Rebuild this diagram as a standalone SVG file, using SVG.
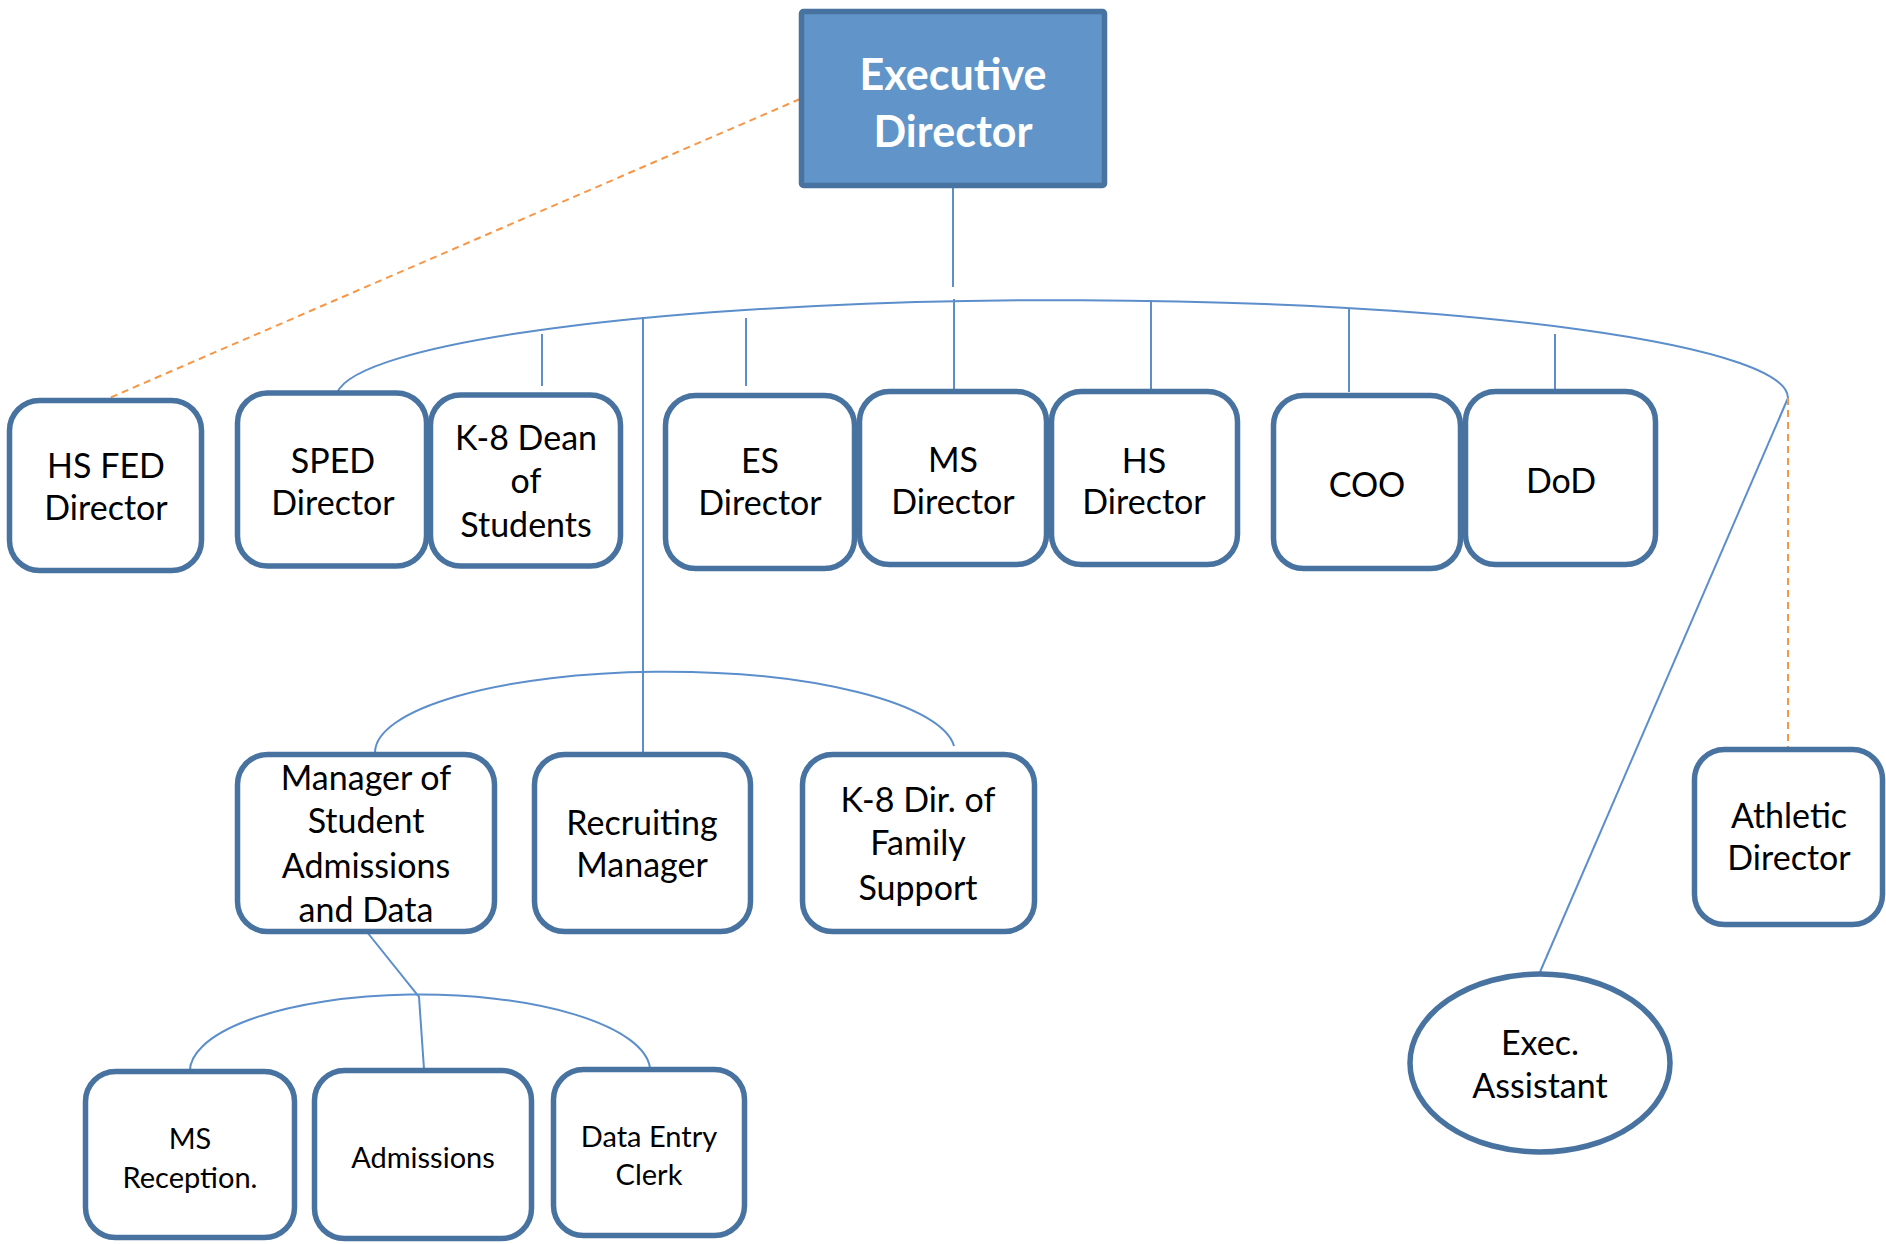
<svg xmlns="http://www.w3.org/2000/svg" width="1886" height="1244" viewBox="0 0 1886 1244">
<style>
.box{fill:#ffffff;stroke:#4872a0;stroke-width:5.5}
.exec{fill:#6195c9;stroke:#4872a0;stroke-width:5.5}
.t{font-family:Lato,"Open Sans","Liberation Sans",sans-serif;font-size:34px;fill:#000;text-anchor:middle}
.s{font-size:29px}
.et{font-family:Lato,"Open Sans","Liberation Sans",sans-serif;font-size:43px;font-weight:bold;fill:#fff;text-anchor:middle}
.c{fill:none;stroke:#5b8ecb;stroke-width:2}
.d{fill:none;stroke:#f79646;stroke-width:2;stroke-dasharray:7 5}
</style>
<rect width="1886" height="1244" fill="#ffffff"/>
<g id="connectors">
<path class="c" d="M953 188 V287"/>
<path class="c" d="M337 393 A 726 98 0 0 1 1788 398"/>
<path class="c" d="M542 334 V386"/>
<path class="c" d="M643 317 V752"/>
<path class="c" d="M746 318 V386"/>
<path class="c" d="M954 299 V389"/>
<path class="c" d="M1151 300 V389"/>
<path class="c" d="M1349 308 V392"/>
<path class="c" d="M1555 334 V389"/>
<path class="c" d="M1788 398 L1540 972"/>
<path class="c" d="M375 752 A 290 81 0 0 1 954 746"/>
<path class="c" d="M367 932 L419 997 L424 1069"/>
<path class="c" d="M190 1075 A 230 77 0 0 1 650 1068"/>
<path class="d" d="M800 99 L107 399"/>
<path class="d" d="M1788 398 V747"/>
</g>
<g id="executive-director">
<rect class="exec" x="801.5" y="11.5" width="303" height="174" rx="2"/>
<text class="et" x="953" y="90">Executive</text>
<text class="et" x="953" y="147">Director</text>
</g>
<g id="hs-fed-director">
<rect class="box" x="9.5" y="400.5" width="192" height="170" rx="30"/>
<text class="t" x="106" y="478">HS FED</text>
<text class="t" x="106" y="520">Director</text>
</g>
<g id="sped-director">
<rect class="box" x="237.5" y="393" width="189" height="173" rx="30"/>
<text class="t" x="333" y="473">SPED</text>
<text class="t" x="333" y="515">Director</text>
</g>
<g id="k8-dean">
<rect class="box" x="430.5" y="395" width="190" height="171" rx="30"/>
<text class="t" x="526" y="450">K-8 Dean</text>
<text class="t" x="526" y="493">of</text>
<text class="t" x="526" y="537">Students</text>
</g>
<g id="es-director">
<rect class="box" x="665.5" y="395.5" width="189" height="173" rx="30"/>
<text class="t" x="760" y="473">ES</text>
<text class="t" x="760" y="515">Director</text>
</g>
<g id="ms-director">
<rect class="box" x="859.5" y="391.5" width="187" height="173" rx="30"/>
<text class="t" x="953" y="472">MS</text>
<text class="t" x="953" y="514">Director</text>
</g>
<g id="hs-director">
<rect class="box" x="1051.5" y="391.5" width="186" height="173" rx="30"/>
<text class="t" x="1144" y="473">HS</text>
<text class="t" x="1144" y="514">Director</text>
</g>
<g id="coo">
<rect class="box" x="1273.5" y="395.5" width="187" height="173" rx="30"/>
<text class="t" x="1367" y="497">COO</text>
</g>
<g id="dod">
<rect class="box" x="1465.5" y="391.5" width="190" height="173" rx="30"/>
<text class="t" x="1561" y="493">DoD</text>
</g>
<g id="manager-admissions">
<rect class="box" x="237.5" y="754.5" width="257" height="177" rx="30"/>
<text class="t" x="366" y="790">Manager of</text>
<text class="t" x="366" y="833">Student</text>
<text class="t" x="366" y="878">Admissions</text>
<text class="t" x="366" y="922">and Data</text>
</g>
<g id="recruiting-manager">
<rect class="box" x="534.5" y="754.5" width="216" height="177" rx="30"/>
<text class="t" x="642" y="835">Recruiting</text>
<text class="t" x="642" y="877">Manager</text>
</g>
<g id="k8-family-support">
<rect class="box" x="802.5" y="754.5" width="232" height="177" rx="30"/>
<text class="t" x="918" y="812">K-8 Dir. of</text>
<text class="t" x="918" y="855">Family</text>
<text class="t" x="918" y="900">Support</text>
</g>
<g id="athletic-director">
<rect class="box" x="1694.5" y="749.5" width="188" height="175" rx="30"/>
<text class="t" x="1789" y="828">Athletic</text>
<text class="t" x="1789" y="870">Director</text>
</g>
<g id="exec-assistant">
<ellipse class="box" cx="1540" cy="1063" rx="130" ry="89"/>
<text class="t" x="1540" y="1055">Exec.</text>
<text class="t" x="1540" y="1098">Assistant</text>
</g>
<g id="ms-reception">
<rect class="box" x="85.5" y="1071.5" width="209" height="166" rx="30"/>
<text class="t s" x="190" y="1149">MS</text>
<text class="t s" x="190" y="1188">Reception.</text>
</g>
<g id="admissions">
<rect class="box" x="314.5" y="1070.5" width="217" height="168" rx="30"/>
<text class="t s" x="423" y="1168">Admissions</text>
</g>
<g id="data-entry-clerk">
<rect class="box" x="553.5" y="1069.5" width="191" height="166" rx="30"/>
<text class="t s" x="649" y="1147">Data Entry</text>
<text class="t s" x="649" y="1185">Clerk</text>
</g>
</svg>
